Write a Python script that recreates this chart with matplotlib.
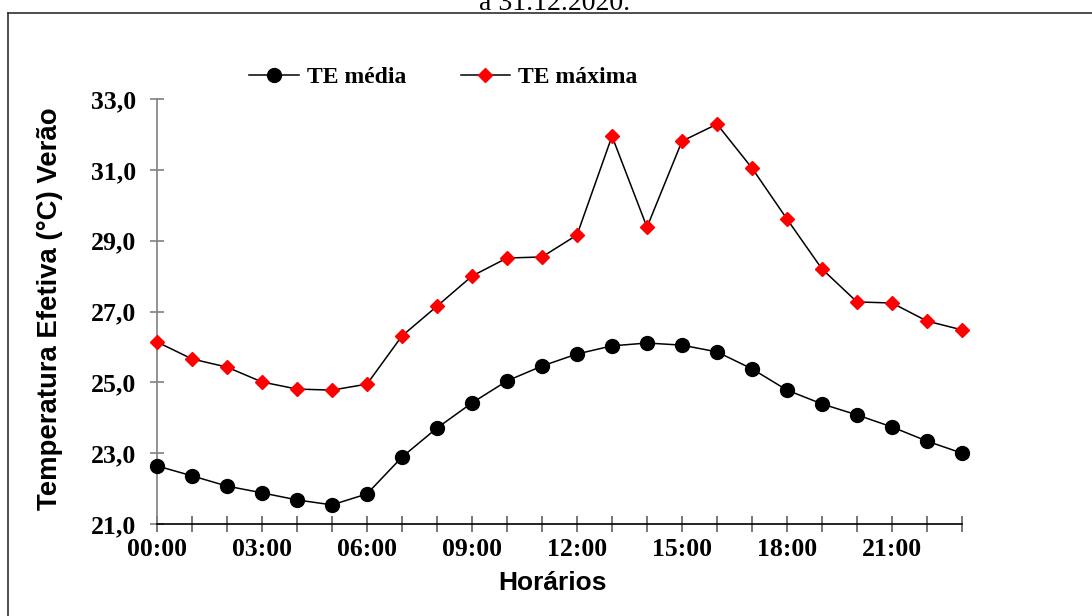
import numpy as np
import matplotlib
matplotlib.use("Agg")
import matplotlib.pyplot as plt
from matplotlib.lines import Line2D

# Hourly effective temperature (summer)
hours = np.arange(24)
te_media = [22.64, 22.36, 22.07, 21.88, 21.68, 21.54, 21.85, 22.89, 23.71, 24.42,
            25.04, 25.46, 25.80, 26.03, 26.11, 26.05, 25.86, 25.38, 24.78, 24.39,
            24.08, 23.74, 23.34, 23.00]
te_maxima = [26.14, 25.66, 25.43, 25.01, 24.81, 24.78, 24.95, 26.31, 27.15, 28.00,
             28.51, 28.54, 29.16, 31.95, 29.38, 31.81, 32.29, 31.05, 29.61, 28.20,
             27.27, 27.24, 26.73, 26.48]
xtick_pos = [0, 3, 6, 9, 12, 15, 18, 21]
xtick_labels = ["00:00", "03:00", "06:00", "09:00", "12:00", "15:00", "18:00", "21:00"]
ytick_vals = [21, 23, 25, 27, 29, 31, 33]

W, H = 1092, 616
fig = plt.figure(figsize=(W / 100, H / 100), dpi=100)
ax = fig.add_axes([157 / W, 1 - 524 / H, (962 - 157) / W, (524 - 99) / H])

ax.plot(hours, te_media, color="black", lw=1.1, marker="o", ms=10,
        mfc="black", mec="black", label="TE média", clip_on=False, zorder=3)
ax.plot(hours, te_maxima, color="black", lw=1.1, marker="D", ms=7,
        mfc="red", mec="red", label="TE máxima", clip_on=False, zorder=3)

ax.set_xlim(0, 23)
ax.set_ylim(21, 33)

ax.spines["top"].set_visible(False)
ax.spines["right"].set_visible(False)
ax.spines["left"].set_color("#808080")
ax.spines["left"].set_linewidth(1.2)
ax.spines["bottom"].set_color("black")
ax.spines["bottom"].set_linewidth(1.2)

ax.set_xticks(hours)
ax.set_xticklabels([xtick_labels[xtick_pos.index(h)] if h in xtick_pos else "" for h in hours])
ax.set_yticks(ytick_vals)
ax.set_yticklabels([f"{v:.1f}".replace(".", ",") for v in ytick_vals])

for lab in ax.get_xticklabels() + ax.get_yticklabels():
    lab.set_fontfamily("Liberation Serif")
    lab.set_fontweight("bold")
    lab.set_fontsize(18.5)

ax.tick_params(axis="y", direction="inout", length=10, width=1.2, color="#808080", pad=10)
ax.tick_params(axis="x", direction="inout", length=12, width=1.2, color="#606060", pad=4)

# axis titles
fig.text(552 / W, 1 - 590 / H, "Horários", family="Liberation Sans", weight="bold",
         size=19, ha="center", va="baseline")
fig.text(57 / W, 1 - 309 / H, "Temperatura Efetiva (°C) Verão", family="Liberation Sans",
         weight="bold", size=19.8, ha="center", va="baseline", rotation=90,
         rotation_mode="anchor")

# legend
leg = fig.legend(loc="center left", bbox_to_anchor=(249 / W, 1 - 77 / H), ncol=2,
                 frameon=False, borderpad=0, borderaxespad=0, handlelength=2.1,
                 handletextpad=0.35, columnspacing=2.3,
                 prop=dict(family="Liberation Serif", weight="bold", size=17))
for h in leg.legend_handles:
    h.set_linewidth(1.1)

# caption above the frame, cut off at the top as in the source
fig.text(555 / W, 1 - 10 / H, "a 31.12.2020.", family="Liberation Serif", size=20,
         ha="center", va="baseline")

# outer frame (left and top edges visible)
fig.add_artist(Line2D([8 / W, 8 / W], [0, 1 - 13 / H], color="#303030", lw=1.2))
fig.add_artist(Line2D([8 / W, 1], [1 - 13 / H, 1 - 13 / H], color="#303030", lw=1.2))

fig.savefig("out.png", dpi=100)
